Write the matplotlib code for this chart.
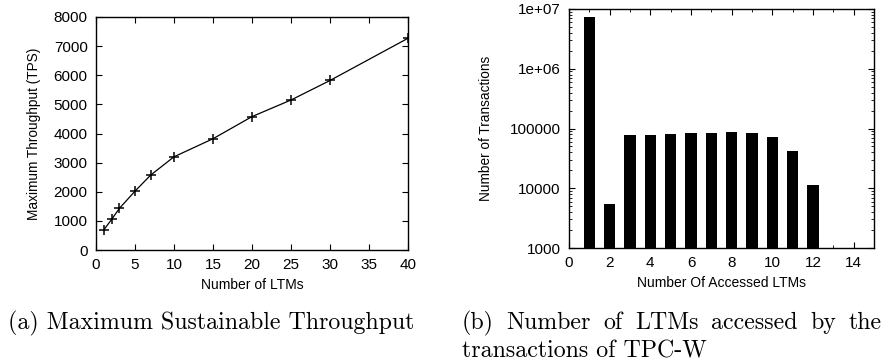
import numpy as np
import matplotlib
matplotlib.use("Agg")
import matplotlib.pyplot as plt
from matplotlib.ticker import FixedLocator, LogLocator, NullFormatter

# (a) throughput vs number of LTMs
ltms = [1, 2, 3, 5, 7, 10, 15, 20, 25, 30, 40]
throughput = [690, 1050, 1430, 2020, 2570, 3200, 3820, 4580, 5150, 5820, 7270]

# (b) transactions per number of accessed LTMs
accessed = [1, 2, 3, 4, 5, 6, 7, 8, 9, 10, 11, 12]
transactions = [7450000, 5480, 76400, 78700, 80700, 82700, 85700, 86800,
                85700, 71700, 41400, 11370]

log_ticks = [1000, 10000, 100000, 1000000, 10000000]
log_labels = ["1000", "10000", "100000", "1e+06", "1e+07"]

plt.rcParams["font.family"] = ["Liberation Sans", "DejaVu Sans"]
plt.rcParams["xtick.direction"] = "in"
plt.rcParams["ytick.direction"] = "in"
plt.rcParams["xtick.top"] = True
plt.rcParams["ytick.right"] = True
plt.rcParams["xtick.major.size"] = 4
plt.rcParams["ytick.major.size"] = 4
plt.rcParams["xtick.minor.size"] = 2
plt.rcParams["ytick.minor.size"] = 2

fig = plt.figure(figsize=(8.88, 3.62), dpi=100)

ax1 = fig.add_axes([96 / 888, 1 - 250 / 362, 312 / 888, 233 / 362])
ax1.plot(ltms, throughput, color="black", lw=0.9, marker="+", ms=7, mew=1.1)
ax1.set_xlim(0, 40)
ax1.set_ylim(0, 8000)
ax1.set_xticks(range(0, 41, 5))
ax1.set_yticks(range(0, 8001, 1000))
ax1.set_xlabel("Number of LTMs", fontsize=10, labelpad=4)
ax1.set_ylabel("Maximum Throughput (TPS)", fontsize=9.8, labelpad=9)

ax2 = fig.add_axes([569 / 888, 1 - 248 / 362, 305 / 888, 239 / 362])
ax2.bar(accessed, transactions, width=0.56, color="black", bottom=0)
ax2.set_yscale("log")
ax2.set_ylim(1000, 10000000)
ax2.set_xlim(0, 15)
ax2.set_xticks(range(0, 15, 2))
ax2.xaxis.set_minor_locator(FixedLocator(range(0, 16)))
ax2.yaxis.set_major_locator(FixedLocator(log_ticks))
ax2.set_yticklabels(log_labels)
ax2.yaxis.set_minor_locator(LogLocator(base=10, subs=np.arange(2, 10)))
ax2.yaxis.set_minor_formatter(NullFormatter())
ax2.set_xlabel("Number Of Accessed LTMs", fontsize=10, labelpad=4)
ax2.set_ylabel("Number of Transactions", fontsize=9.8, labelpad=12)

for ax in (ax1, ax2):
    for s in ax.spines.values():
        s.set_linewidth(1.0)
    ax.tick_params(labelsize=11, pad=6)

cap = dict(fontfamily="cmr10", fontsize=17.2, va="baseline", ha="left")
fig.text(8 / 888, 1 - 329 / 362, "(a) Maximum Sustainable Throughput", **cap)
fig.text(462 / 888, 1 - 357 / 362, "transactions of TPC-W", **cap)

# justified first line of caption (b), spanning 462..882 px
words = ["(b)", "Number", "of", "LTMs", "accessed", "by", "the"]
renderer = fig.canvas.get_renderer()
texts = [fig.text(0, 1 - 329 / 362, w, **cap) for w in words]
widths = [t.get_window_extent(renderer).width for t in texts]
gap = (882 - 462 - sum(widths)) / (len(words) - 1)
x = 462
for t, w in zip(texts, widths):
    t.set_x(x / 888)
    x += w + gap

fig.savefig("out.png", dpi=100)
